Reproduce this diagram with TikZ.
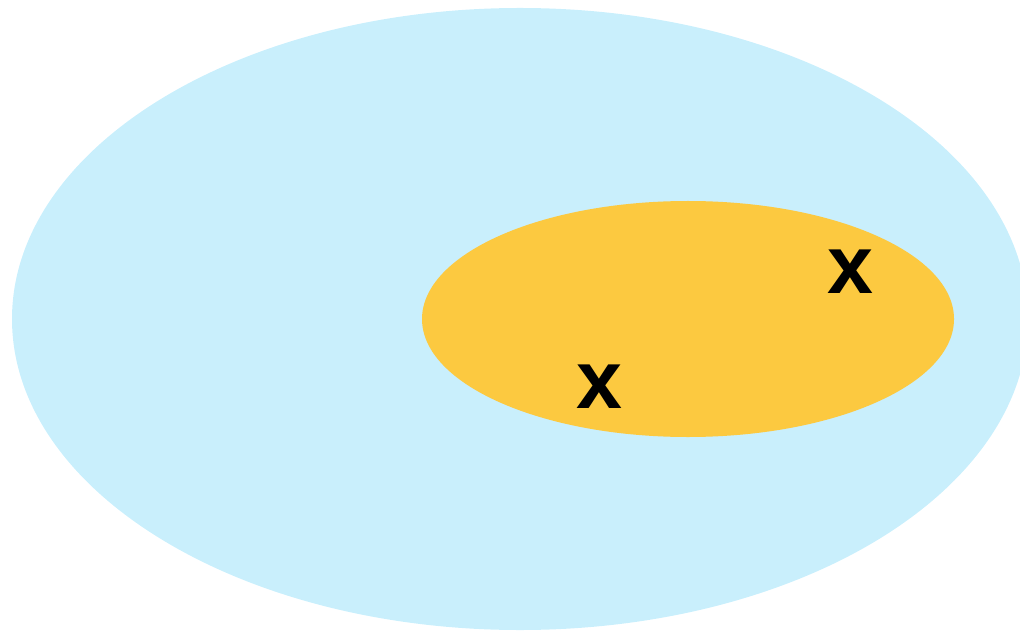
\documentclass[tikz,border=0pt]{standalone}
\usepackage{fontspec}
\setsansfont{Liberation Sans}
\usetikzlibrary{shapes.geometric}
\definecolor{skyblue}{HTML}{C9EFFC}
\definecolor{sunyellow}{HTML}{FCC940}

\begin{document}
\begin{tikzpicture}[
    blob/.style={ellipse, draw=none, inner sep=0pt, outer sep=0pt},
    cross/.style={inner sep=0pt, font=\sffamily\bfseries\fontsize{23.5}{24}\selectfont}
]
    \useasboundingbox (0,0) rectangle (10.20,6.32);
    \clip (0,0) rectangle (10.20,6.32);
    \node[blob, fill=skyblue, minimum width=10.16cm, minimum height=6.22cm] (whole) at (5.20,3.13) {};
    \node[blob, fill=sunyellow, minimum width=5.32cm, minimum height=2.36cm] (part) at (6.88,3.13) {};

    % points
    \node[cross] (p1) at (5.99,2.45) {x};
    \node[cross] (p2) at (8.50,3.60) {x};
\end{tikzpicture}
\end{document}
